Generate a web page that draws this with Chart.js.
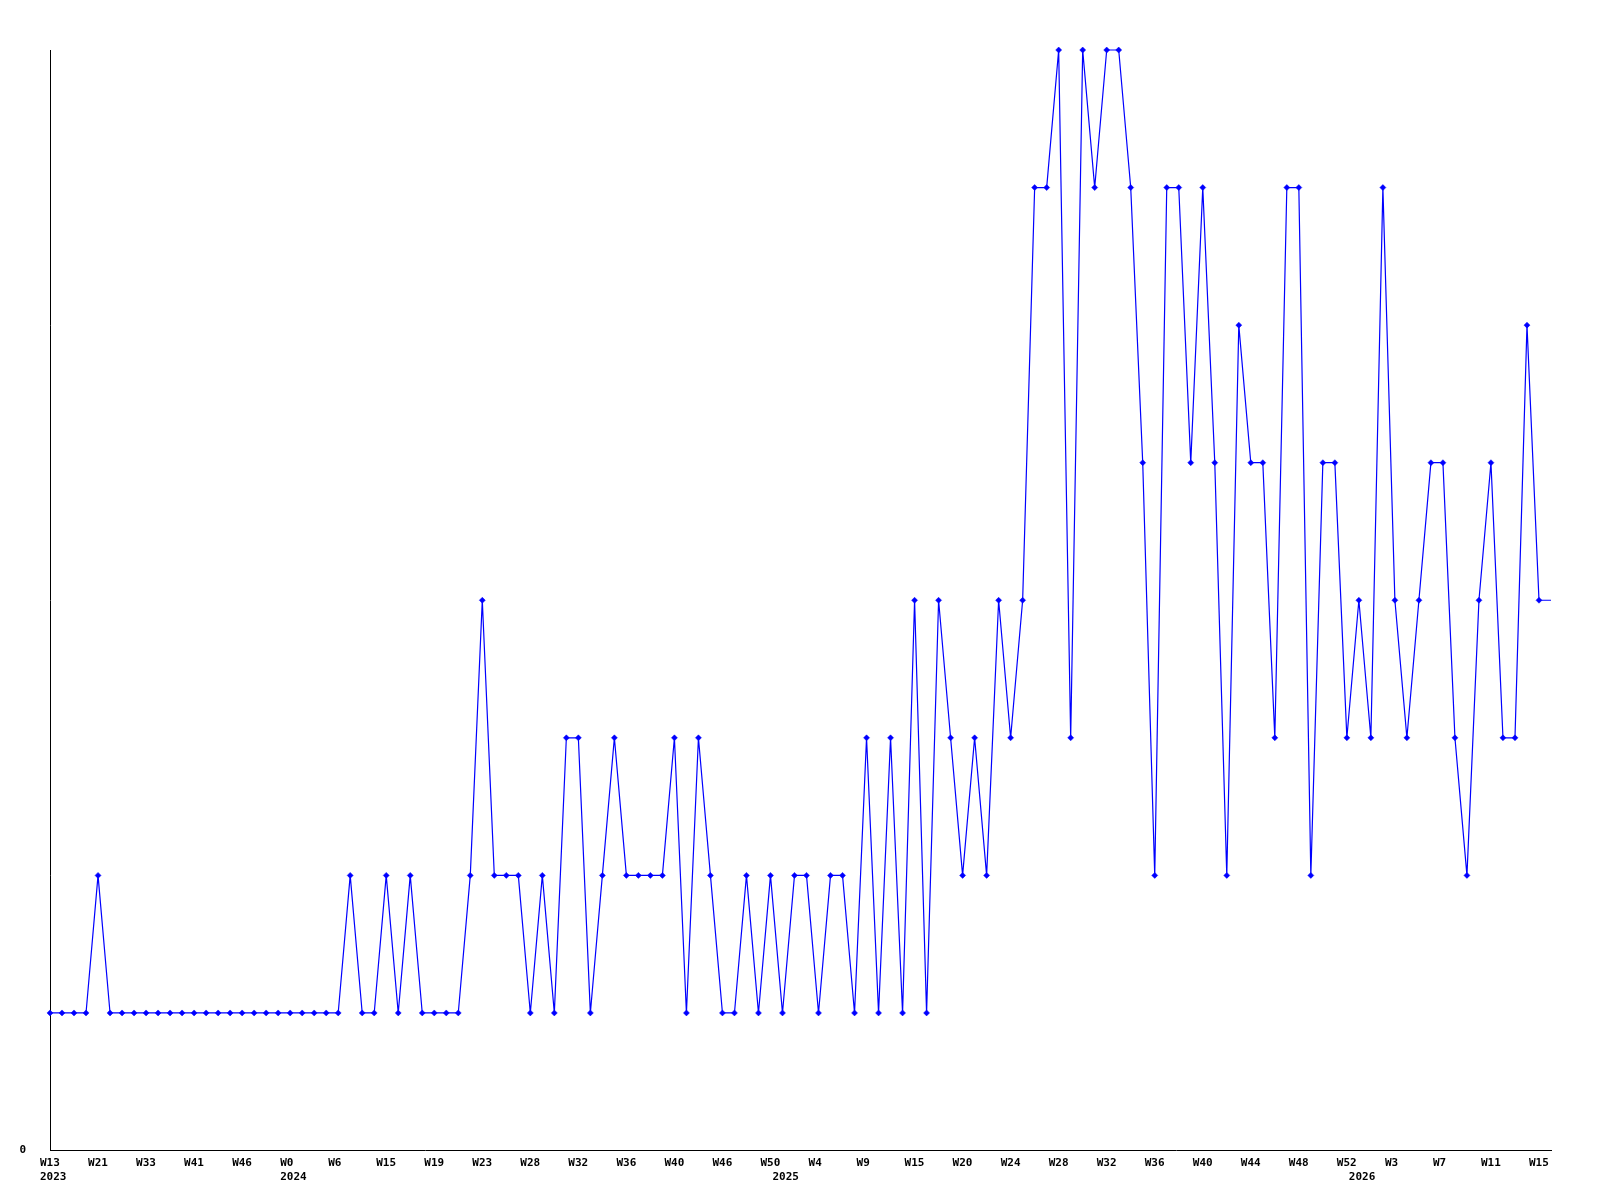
<!DOCTYPE html>
<html>
<head>
<meta charset="utf-8">
<script src="https://cdn.jsdelivr.net/npm/chart.js@4.4.1/dist/chart.umd.min.js"></script>
<style>
  html, body { margin: 0; padding: 0; background: #fff; }
  #wrap { width: 1600px; height: 1200px; }
</style>
</head>
<body>
<div id="wrap"><canvas id="weekChart"></canvas></div>
<script>
// one value per point (weekly counts)
const counts = [
  1, 1, 1, 1, 2, 1, 1, 1, 1, 1,
  1, 1, 1, 1, 1, 1, 1, 1, 1, 1,
  1, 1, 1, 1, 1, 2, 1, 1, 2, 1,
  2, 1, 1, 1, 1, 2, 4, 2, 2, 2,
  1, 2, 1, 3, 3, 1, 2, 3, 2, 2,
  2, 2, 3, 1, 3, 2, 1, 1, 2, 1,
  2, 1, 2, 2, 1, 2, 2, 1, 3, 1,
  3, 1, 4, 1, 4, 3, 2, 3, 2, 4,
  3, 4, 7, 7, 8, 3, 8, 7, 8, 8,
  7, 5, 2, 7, 7, 5, 7, 5, 2, 6,
  5, 5, 3, 7, 7, 2, 5, 5, 3, 4,
  3, 7, 4, 3, 4, 5, 5, 3, 2, 4,
  5, 3, 3, 6, 4, 4
];

// week label on every 4th point
const weekTicks = [
  "W13", "W21", "W33", "W41", "W46", "W0", "W6", "W15",
  "W19", "W23", "W28", "W32", "W36", "W40", "W46", "W50",
  "W4", "W9", "W15", "W20", "W24", "W28", "W32", "W36",
  "W40", "W44", "W48", "W52", "W3", "W7", "W11", "W15"
];

// first point of each year
const yearStarts = [0, 20, 61, 109];
const yearNames = ["2023", "2024", "2025", "2026"];

const labels = counts.map((c, i) => i);
const lastIndex = counts.length - 1;
const tickFont = { family: "'DejaVu Sans Mono', monospace", size: 11, weight: "bold", lineHeight: 1.245 };

new Chart(document.getElementById("weekChart"), {
  type: "line",
  data: {
    labels: labels,
    datasets: [{
      data: counts,
      borderColor: "#0000ff",
      backgroundColor: "#0000ff",
      borderWidth: 1.2,
      pointStyle: "rectRot",
      pointRadius: (ctx) => ctx.dataIndex === lastIndex ? 0 : 3,
      pointBorderWidth: 0.5,
      tension: 0,
      clip: false
    }]
  },
  options: {
    responsive: true,
    maintainAspectRatio: false,
    animation: false,
    layout: { padding: { left: 19.5, right: 49, top: 50, bottom: 16 } },
    plugins: { legend: { display: false }, tooltip: { enabled: false } },
    scales: {
      x: {
        grid: { display: false, drawTicks: false },
        border: { display: true, color: "#000", width: 1 },
        afterFit: (scale) => { scale.height = 33.5; },
        ticks: {
          autoSkip: false,
          maxRotation: 0,
          minRotation: 0,
          align: "start",
          labelOffset: -10,
          padding: 6,
          color: "#000",
          font: tickFont,
          callback: function (value, index) {
            const week = index % 4 === 0 ? weekTicks[index / 4] : "";
            const y = yearStarts.indexOf(index);
            return [week, y >= 0 ? yearNames[y] : ""];
          }
        }
      },
      y: {
        min: 0,
        max: 8,
        grid: { display: false, drawTicks: false },
        border: { display: true, color: "#000", width: 1 },
        afterFit: (scale) => { scale.width = 30.5; },
        ticks: {
          stepSize: 1,
          padding: 24,
          color: "#000",
          font: tickFont,
          callback: (v) => v === 0 ? "0" : ""
        }
      }
    }
  }
});
</script>
</body>
</html>
